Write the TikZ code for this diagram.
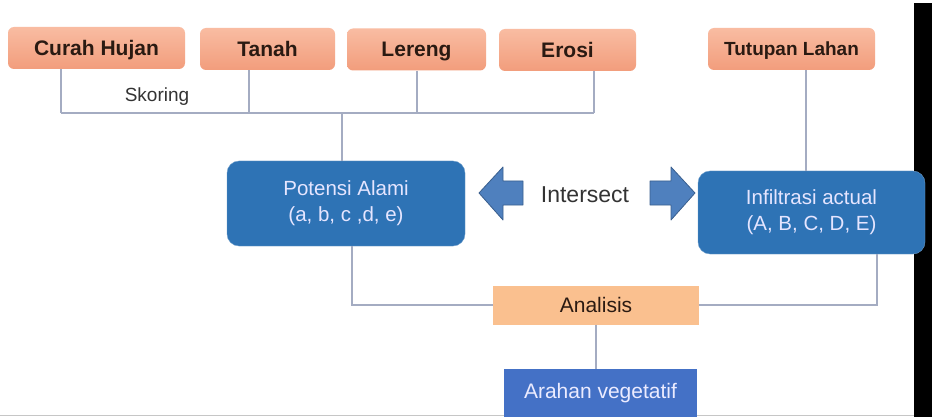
\documentclass[tikz,border=0pt]{standalone}
\usepackage{fontspec}
\setmainfont{Liberation Sans}
\usetikzlibrary{positioning}
\definecolor{salmonTop}{HTML}{F9BCA2}
\definecolor{salmonBot}{HTML}{F29D7C}
\definecolor{textbrown}{HTML}{2A1A12}
\definecolor{boxblue}{HTML}{2E73B5}
\definecolor{arrowblue}{HTML}{4F80BE}
\definecolor{arrowedge}{HTML}{3A5F8E}
\definecolor{peach}{HTML}{FAC08F}
\definecolor{royal}{HTML}{4471C6}
\definecolor{linkgray}{HTML}{A4ACC2}

\begin{document}
\begin{tikzpicture}[x=1pt,y=-1pt,
    topbox/.style={rounded corners=6pt, top color=salmonTop, bottom color=salmonBot, minimum height=42pt, inner sep=0pt, text height=15pt, text depth=0pt, text=textbrown, font=\fontsize{21}{25}\selectfont\bfseries},
    bluebox/.style={rounded corners=12pt, fill=boxblue, draw=boxblue!70!white, text=white!90!blue, align=center, inner sep=0pt, font=\fontsize{20.5}{26}\selectfont},
    flatbox/.style={inner sep=0pt, font=\fontsize{21}{25}\selectfont},
    link/.style={draw=linkgray, line width=1.2pt},
    fatarrow/.style={fill=arrowblue, draw=arrowedge, line width=0.8pt, line join=round}]
    \fill[white] (0,0) rectangle (932,417);
    \useasboundingbox (0,0) rectangle (932,417);
    % screen edge
    \fill[black] (914,3) rectangle (932,417);
    \draw[gray!45, line width=1pt] (0,415.5) -- (914,415.5);
    % top row
    \node[topbox, minimum width=177pt] (curah) at (96.5,48) {Curah Hujan};
    \node[topbox, minimum width=135pt] (tanah) at (267.5,49) {Tanah};
    \node[topbox, minimum width=139pt] (lereng) at (416.5,49.5) {Lereng};
    \node[topbox, minimum width=137pt] (erosi) at (567.5,50) {Erosi};
    \node[topbox, minimum width=167pt, text height=13.6pt, font=\fontsize{19}{23}\selectfont\bfseries] (tutupan) at (791.5,49) {Tutupan Lahan};
    % middle row
    \node[bluebox, minimum width=238pt, minimum height=85pt] (potensi) at (346,203.5) {Potensi Alami\\(a, b, c ,d, e)};
    \node[bluebox, minimum width=227pt, minimum height=83pt] (infil) at (811.5,212.5) {Infiltrasi actual\\(A, B, C, D, E)};
    \node[font=\fontsize{23}{27}\selectfont, text=black!80] (intersect) at (585,195) {Intersect};
    \draw[fatarrow] (479,193) -- (503,167) -- (503,181) -- (523,181) -- (523,205) -- (503,205) -- (503,220) -- cycle;
    \draw[fatarrow] (695,193) -- (671,167) -- (671,181) -- (650,181) -- (650,205) -- (671,205) -- (671,220) -- cycle;
    % bottom row
    \node[flatbox, fill=peach, text=textbrown, minimum width=206pt, minimum height=39pt] (analisis) at (596,305) {Analisis};
    \node[flatbox, fill=royal, text=white!92!blue, minimum width=193pt, minimum height=48pt] (arahan) at (600.5,393) {Arahan vegetatif};
    % skoring bus
    \foreach \n/\x in {curah/61, tanah/249, lereng/417, erosi/594}{
        \coordinate (b\n) at (\x,113);
        \draw[link] (b\n |- \n.south) -- (b\n);
    }
    \draw[link] (bcurah) -- (berosi);
    \coordinate (bus) at (342,113);
    \draw[link] (bus) -- (bus |- potensi.north);
    \node[font=\fontsize{19}{23}\selectfont, text=black!80] (skoring) at (157,97) {Skoring};
    \coordinate (tl) at (806,0);
    \draw[link] (tl |- tutupan.south) -- (tl |- infil.north);
    % to analisis
    \coordinate (pl) at (352,305);
    \coordinate (il) at (877,305);
    \draw[link] (pl |- potensi.south) -- (pl) -- (analisis.west);
    \draw[link] (il |- infil.south) -- (il) -- (analisis.east);
    \draw[link] (analisis.south) -- (analisis.south |- arahan.north);
\end{tikzpicture}
\end{document}
